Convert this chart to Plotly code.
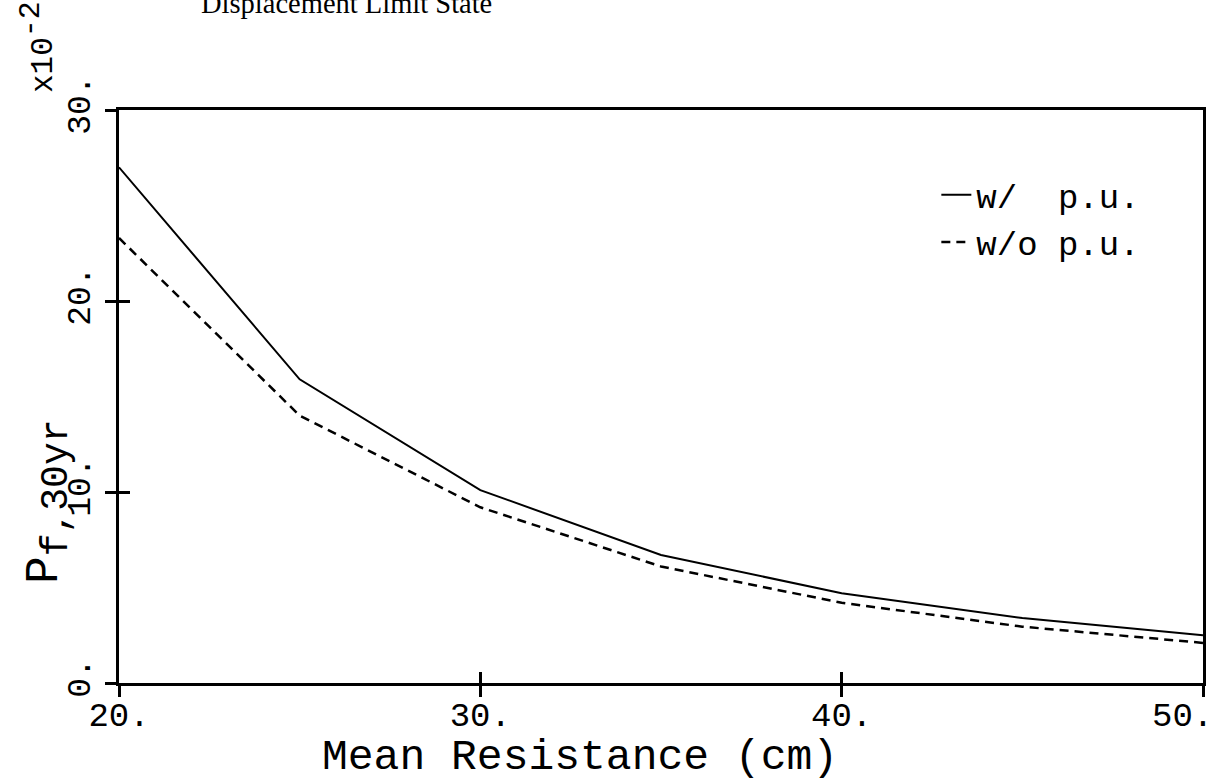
import plotly.graph_objects as go

# ---- data ----
mean_resistance = [20, 25, 30, 35, 40, 45, 50]
pf_with_pu = [27.0, 15.9, 10.1, 6.7, 4.7, 3.4, 2.5]
pf_without_pu = [23.3, 14.0, 9.2, 6.1, 4.2, 2.95, 2.1]

x_tickvals = [20, 30, 40, 50]
x_ticktext = ["20.", "30.", "40.", "50.\u00a0\u00a0"]
y_tickvals = [0, 10, 20, 30]
y_ticktext = ["0.", "10.", "20.", "30."]

MONO = "Liberation Mono, Courier New, monospace"
SERIF = "Liberation Serif, Times New Roman, serif"

fig = go.Figure()
fig.add_trace(go.Scatter(x=mean_resistance, y=pf_with_pu, mode="lines",
                         name="w/  p.u.", line=dict(color="black", width=2)))
fig.add_trace(go.Scatter(x=mean_resistance, y=pf_without_pu, mode="lines",
                         name="w/o p.u.", line=dict(color="black", width=2.5, dash="9px,6px")))

axis_common = dict(showgrid=False, zeroline=False, linecolor="black", linewidth=2.5,
                   tickcolor="black", tickwidth=2.5, ticklen=11, automargin=False)

fig.update_layout(
    width=1230, height=782,
    margin=dict(l=119, r=27, t=110, b=99),
    paper_bgcolor="white", plot_bgcolor="white",
    showlegend=True,
    legend=dict(x=0.754, y=0.902, xanchor="left", yanchor="top",
                font=dict(family=MONO, size=34, color="black"),
                bgcolor="rgba(0,0,0,0)", tracegroupgap=0),
    xaxis=dict(range=[20, 50], tickvals=x_tickvals, ticktext=x_ticktext,
               ticks="outside", showline=True, mirror=True, ticklabeloverflow="allow",
               ticklabelstandoff=-12,
               tickfont=dict(family=MONO, size=34, color="black"),
               **axis_common),
    xaxis2=dict(range=[20, 50], tickvals=x_tickvals, ticks="inside", showticklabels=False,
                overlaying="x", anchor="y", showline=False, showgrid=False, zeroline=False,
                tickcolor="black", tickwidth=2.5, ticklen=11),
    yaxis=dict(range=[0, 30], tickvals=y_tickvals, ticktext=y_ticktext,
               ticks="outside", showline=True, mirror=True, tickangle=-90,
               ticklabelstandoff=2,
               tickfont=dict(family=MONO, size=33, color="black"),
               **axis_common),
    yaxis2=dict(range=[0, 30], tickvals=y_tickvals, ticks="inside", showticklabels=False,
                overlaying="y", anchor="x", showline=False, showgrid=False, zeroline=False,
                tickcolor="black", tickwidth=2.5, ticklen=11),
    annotations=[
        dict(text="Mean Resistance (cm)", xref="paper", yref="paper", x=0.425, y=0,
             xanchor="center", yanchor="middle", yshift=-74, showarrow=False,
             font=dict(family=MONO, size=43, color="black")),
        dict(text="P<sub><span style='font-size:38px'>f,30yr</span></sub>",
             xref="paper", yref="paper", x=0, y=0.316,
             xanchor="center", yanchor="middle",
             xshift=-70, textangle=-90, showarrow=False,
             font=dict(family=MONO, size=46, color="black")),
        dict(text="x10<sup><span style='font-size:30px'>-2</span></sup>",
             xref="paper", yref="paper", x=0, y=1,
             xanchor="center", yanchor="middle",
             xshift=-82, yshift=63, textangle=-90, showarrow=False,
             font=dict(family=MONO, size=31, color="black")),
        dict(text="Displacement Limit State", xref="paper", yref="paper", x=0, y=1,
             xanchor="left", yanchor="bottom", xshift=80, yshift=89, showarrow=False,
             font=dict(family=SERIF, size=28.5, color="black")),
    ],
)

# invisible trace carrying the inside ticks of the overlay axes
fig.add_trace(go.Scatter(x=[mean_resistance[0]], y=[pf_with_pu[0]], xaxis="x2", yaxis="y2",
                         mode="markers", marker=dict(opacity=0), showlegend=False, hoverinfo="skip"))

fig.write_html("out.html")
